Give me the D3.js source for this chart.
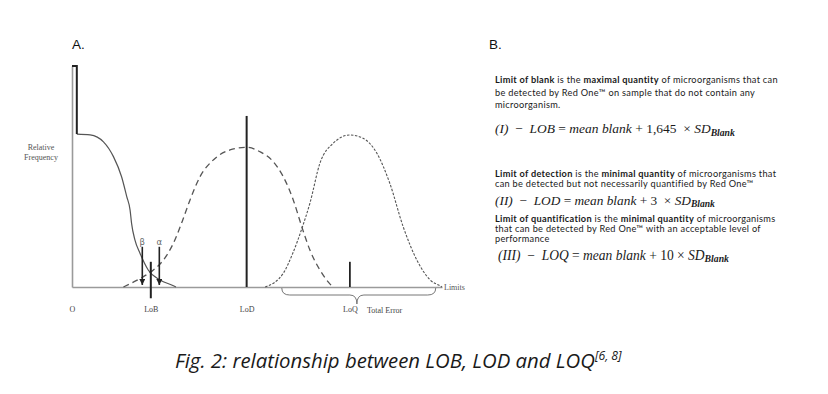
<!DOCTYPE html>
<html><head><meta charset="utf-8">
<script src="https://cdn.jsdelivr.net/npm/d3@7"></script>
<style>body{margin:0;background:#fff} svg{display:block}</style>
</head><body>
<svg id="c" width="828" height="394"></svg>
<script>
// ---------- DATA (x: concentration units 0..100, y: relative frequency 0..100) ----------
const blankX = [1.3, 4.9, 8.5, 11.2, 13.4, 14.8, 15.7, 16.1, 17.0, 18.4, 20.6, 23.8, 27.4, 28.1];
const blankY = [69.2, 68.8, 65.7, 59.0, 49.9, 40.9, 34.8, 28.8, 21.3, 15.2, 7.7, 3.2, 0.6, 0];
const blankSpikeTop = 100;

const lodX = [13.9, 19.3, 22.0, 24.7, 27.4, 29.6, 31.9, 34.6, 38.2, 42.7, 47.2, 50.8, 54.4, 57.1, 59.8, 62.1, 64.3, 67.0, 70.2, 70.5];
const lodY = [0, 4.7, 7.7, 12.2, 19.8, 28.8, 39.4, 49.9, 57.5, 62.0, 63.2, 61.2, 56.7, 49.9, 39.4, 27.3, 16.7, 7.7, 0.5, 0];

const loqX = [52.2, 57.1, 59.7, 62.3, 64.3, 67.0, 70.6, 75.1, 78.7, 82.4, 85.9, 89.5, 93.2, 96.8, 99.5, 100];
const loqY = [0, 6.2, 15.4, 27.3, 37.9, 56.0, 65.0, 68.8, 67.3, 60.5, 46.9, 27.3, 12.2, 3.2, 0.5, 0];

const tickLabels = ["O", "LoB", "LoD", "LoQ"];
const tickValues = [0, 21.3, 47.2, 75.1];
const lodLineTop = 77.4;
const loqLineTop = 11.4;
const lobLineRange = [-5.1, 11.4];
const arrowLabels = ["β", "α"];
const arrowX = [19.0, 23.6];
const arrowRange = [18.2, 0.9];
const braceRange = [56.7, 98.3, 77.0];

const panelLabels = ["A.", "B."];

// ---------- SETUP ----------
const svg = d3.select("#c");
const x = d3.scaleLinear().domain([0, 100]).range([72, 442]);
const y = d3.scaleLinear().domain([0, 100]).range([287, 66]);
const grayAxis = "#9a9a9a", curveCol = "#555", dark = "#222";

// panel labels
svg.append("text").attr("x", 72).attr("y", 49).attr("font-family", "Liberation Sans, Arial").attr("font-size", 13.5).attr("fill", "#111").text(panelLabels[0]);
svg.append("text").attr("x", 489).attr("y", 49).attr("font-family", "Liberation Sans, Arial").attr("font-size", 13.5).attr("fill", "#111").text(panelLabels[1]);

// axes
const xAxis = d3.axisBottom(x).tickValues(tickValues).tickFormat((d, i) => tickLabels[i]).tickSize(0).tickSizeOuter(0).tickPadding(19);
const gx = svg.append("g").attr("transform", `translate(0,${y(0)})`).call(xAxis);
gx.select(".domain").attr("stroke", grayAxis).attr("stroke-width", 1.6);
gx.selectAll("text").attr("font-family", "Liberation Serif, Times New Roman, serif").attr("font-size", 8).attr("fill", "#444");

const yAxis = d3.axisLeft(y).tickValues([]).tickSizeOuter(0);
const gy = svg.append("g").attr("transform", `translate(${x(0)},0)`).call(yAxis);
gy.select(".domain").attr("stroke", grayAxis).attr("stroke-width", 1.6);

svg.append("text").attr("x", 444).attr("y", 290).attr("font-family", "Liberation Serif, serif").attr("font-size", 8).attr("fill", "#555").text("Limits");
const yl = svg.append("text").attr("font-family", "Liberation Serif, serif").attr("font-size", 8).attr("fill", "#555").attr("text-anchor", "middle");
yl.append("tspan").attr("x", 41).attr("y", 149.5).text("Relative");
yl.append("tspan").attr("x", 41).attr("y", 159.5).text("Frequency");

// curves
const line = d3.line().x(d => x(d[0])).y(d => y(d[1])).curve(d3.curveMonotoneX);
const blankPts = blankX.map((v, i) => [v, blankY[i]]);
svg.append("path").attr("d", line(blankPts)).attr("fill", "none").attr("stroke", curveCol).attr("stroke-width", 1.2);
// spike
svg.append("path")
  .attr("d", `M${x(0)},${y(blankSpikeTop)}H${x(blankX[0])}V${y(blankY[0])}`)
  .attr("fill", "none").attr("stroke", dark).attr("stroke-width", 2);

svg.append("path").attr("d", line(lodX.map((v, i) => [v, lodY[i]])))
  .attr("fill", "none").attr("stroke", curveCol).attr("stroke-width", 1.3).attr("stroke-dasharray", "6,4");
svg.append("path").attr("d", line(loqX.map((v, i) => [v, loqY[i]])))
  .attr("fill", "none").attr("stroke", curveCol).attr("stroke-width", 1.1).attr("stroke-dasharray", "2.5,1.5");

// vertical limit lines
svg.append("line").attr("x1", x(tickValues[2])).attr("x2", x(tickValues[2])).attr("y1", y(0)).attr("y2", y(lodLineTop)).attr("stroke", dark).attr("stroke-width", 2);
svg.append("line").attr("x1", x(tickValues[3])).attr("x2", x(tickValues[3])).attr("y1", y(0)).attr("y2", y(loqLineTop)).attr("stroke", dark).attr("stroke-width", 1.8);
svg.append("line").attr("x1", x(tickValues[1])).attr("x2", x(tickValues[1])).attr("y1", y(lobLineRange[0])).attr("y2", y(lobLineRange[1])).attr("stroke", dark).attr("stroke-width", 2);

// arrows
svg.append("defs").append("marker").attr("id", "ah").attr("viewBox", "0 0 10 10").attr("refX", 10).attr("refY", 5)
  .attr("markerWidth", 6).attr("markerHeight", 6).attr("markerUnits", "userSpaceOnUse").attr("orient", "auto")
  .append("path").attr("d", "M0,0L10,5L0,10z").attr("fill", dark);
arrowX.forEach((ax, i) => {
  svg.append("line").attr("x1", x(ax)).attr("x2", x(ax)).attr("y1", y(arrowRange[0])).attr("y2", y(arrowRange[1]))
    .attr("stroke", dark).attr("stroke-width", 1.6).attr("marker-end", "url(#ah)");
  svg.append("text").attr("x", x(ax)).attr("y", y(arrowRange[0]) - 2).attr("text-anchor", "middle")
    .attr("font-family", "DejaVu Sans, sans-serif").attr("font-size", 8.5).attr("fill", "#666").text(arrowLabels[i]);
});

// brace
{
  const x0 = x(braceRange[0]), x1 = x(braceRange[1]), xm = x(braceRange[2]);
  const t = y(0) + 1, m = t + 7, b = t + 16;
  svg.append("path").attr("d",
    `M${x0},${t} Q${x0},${m} ${x0 + 8},${m} L${xm - 7},${m} Q${xm},${m} ${xm},${b} Q${xm},${m} ${xm + 7},${m} L${x1 - 8},${m} Q${x1},${m} ${x1},${t}`)
    .attr("fill", "none").attr("stroke", "#777").attr("stroke-width", 1);
}
svg.append("text").attr("x", 367).attr("y", 312.5).attr("font-family", "Liberation Serif, serif").attr("font-size", 8).attr("fill", "#444").text("Total Error");

// ---------- PANEL B ----------
function fit(sel, w) {
  const cur = sel.node().getComputedTextLength();
  const fs = parseFloat(sel.attr("font-size"));
  sel.attr("font-size", fs * w / cur);
}
const sans = "Lato, 'Open Sans', sans-serif";
const para = [
  {y: 83, w: 300, parts: [["Limit of blank", 1], [" is the ", 0], ["maximal quantity", 1], [" of microorganisms that can", 0]]},
  {y: 95.5, w: 258, parts: [["be detected by Red One™ on sample that do not contain any", 0]]},
  {y: 108, w: 66, parts: [["microorganism.", 0]]},
  {y: 176.5, w: 307, parts: [["Limit of detection", 1], [" is the ", 0], ["minimal quantity", 1], [" of microorganisms that", 0]]},
  {y: 187, w: 247, parts: [["can be detected but not necessarily quantified by Red One™", 0]]},
  {y: 221.5, w: 310, parts: [["Limit of quantification", 1], [" is the ", 0], ["minimal quantity", 1], [" of microorganisms", 0]]},
  {y: 231.5, w: 252, parts: [["that can be detected by Red One™ with an acceptable level of", 0]]},
  {y: 241.5, w: 53, parts: [["performance", 0]]}
];
const paraSize = 9.2;
const paraTexts = para.map(p => {
  const t = svg.append("text").attr("x", 495).attr("y", p.y).attr("font-family", sans).attr("font-size", paraSize).attr("fill", "#1a1a1a");
  p.parts.forEach(([s, b]) => t.append("tspan").attr("font-weight", b ? 700 : 400).text(s));
  return t;
});
// uniform letter spacing so line lengths match the reference
const spacings = para.map((p, i) => {
  const n = p.parts.map(d => d[0]).join("").length;
  return (p.w - paraTexts[i].node().getComputedTextLength()) / n;
});
const ls = Math.max(0, d3.median(spacings));
paraTexts.forEach(t => t.attr("letter-spacing", ls));

const serif = "'Liberation Serif', 'Times New Roman', serif";
const formulas = [
  {x: 495, y: 133, w: 240, parts: [["(I)", "i"], ["  −  ", "n"], ["LOB", "i"], [" = ", "n"], ["mean blank", "i"], [" + 1,645  × ", "n"], ["SD", "i"], ["Blank", "s"]]},
  {x: 495, y: 204.5, w: 220, parts: [["(II)", "i"], ["  −  ", "n"], ["LOD", "i"], [" = ", "n"], ["mean blank", "i"], [" + 3  × ", "n"], ["SD", "i"], ["Blank", "s"]]},
  {x: 498, y: 259.5, w: 231, parts: [["(III)", "i"], ["  −  ", "n"], ["LOQ", "i"], [" = ", "n"], ["mean blank", "i"], [" + 10 × ", "n"], ["SD", "i"], ["Blank", "s"]]}
];
formulas.forEach(f => {
  const t = svg.append("text").attr("x", f.x).attr("y", f.y).attr("font-family", serif).attr("font-size", 12).attr("fill", "#1a1a1a").attr("xml:space", "preserve").style("white-space", "pre");
  f.parts.forEach(([s, k]) => {
    const ts = t.append("tspan").text(s);
    if (k === "i") ts.attr("font-style", "italic");
    if (k === "s") ts.attr("font-style", "italic").attr("font-weight", 700).style("font-size", "0.72em").attr("dy", 2.5);
  });
  fit(t, f.w);
});

// caption
const cap = svg.append("text").attr("x", 175).attr("y", 368).attr("font-family", "'Open Sans', 'Noto Sans', sans-serif")
  .attr("font-style", "italic").attr("font-size", 21).attr("fill", "#1a1a1a");
cap.append("tspan").text("Fig. 2: relationship between LOB, LOD and LOQ");
cap.append("tspan").style("font-size", "0.6em").attr("dy", -8).text("[6, 8]");
fit(cap, 447);
</script>
</body></html>
